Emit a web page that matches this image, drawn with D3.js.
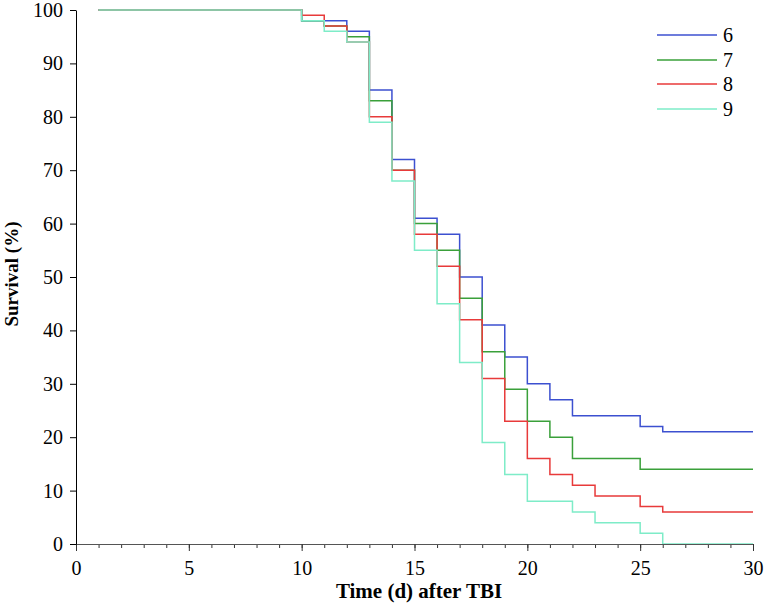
<!DOCTYPE html>
<html><head><meta charset="utf-8">
<script src="https://cdn.jsdelivr.net/npm/d3@7"></script>
<style>body{margin:0;background:#fff}</style>
</head><body>
<svg id="c" width="766" height="605"></svg>
<script>
const seriesNames = ["6","7","8","9"];
const colors = ["#3c50d0","#3aa03a","#e83a3a","#7eecc8"];
const times6 = [1,10,12,13,14,15,16,17,18,19,20,21,22,25,26,30];
const vals6  = [100,98,96,85,72,61,58,50,41,35,30,27,24,22,21,21];
const times7 = [1,10,11,12,13,14,15,16,17,18,19,20,21,22,25,30];
const vals7  = [100,98,97,95,83,70,60,55,46,36,29,23,20,16,14,14];
const times8 = [1,10,11,12,13,14,15,16,17,18,19,20,21,22,23,25,26,30];
const vals8  = [100,99,97,94,80,70,58,52,42,31,23,16,13,11,9,7,6,6];
const times9 = [1,10,11,12,13,14,15,16,17,18,19,20,22,23,25,26,30];
const vals9  = [100,98,96,94,79,68,55,45,34,19,13,8,6,4,2,0,0];
const xTicks = [0,5,10,15,20,25,30];
const yTicks = [0,10,20,30,40,50,60,70,80,90,100];

const svg = d3.select("#c");
const x = d3.scaleLinear().domain([0,30]).range([76,753]);
const y = d3.scaleLinear().domain([0,100]).range([544,10]);
const font = "'Liberation Serif','Times New Roman',serif";

const series = [[times6,vals6],[times7,vals7],[times8,vals8],[times9,vals9]];
const line = d3.line().x(d=>x(d[0])).y(d=>y(d[1])).curve(d3.curveStepAfter);
series.forEach((s,i)=>{
  const pts = s[0].map((t,j)=>[t,s[1][j]]);
  svg.append("path").attr("d",line(pts)).attr("fill","none")
    .attr("stroke",colors[i]).attr("stroke-width",1.5);
});

// x axis
const xa = svg.append("g").attr("transform","translate(0,544)");
xa.call(d3.axisBottom(x).tickValues(d3.range(0,31,1)).tickSize(4).tickFormat(""));
xa.select(".domain").remove();
xa.selectAll("line").attr("stroke","#333");
const xb = svg.append("g").attr("transform","translate(0,544)");
xb.call(d3.axisBottom(x).tickValues(xTicks).tickSize(7).tickSizeOuter(0).tickPadding(10));
xb.select(".domain").attr("stroke","#555");
xb.selectAll("line").attr("stroke","#333");
xb.selectAll("text").attr("font-family",font).attr("font-size",20).attr("fill","#000");

// y axis
const ya = svg.append("g").attr("transform","translate(76,0)");
ya.call(d3.axisLeft(y).tickValues(yTicks).tickSize(6).tickSizeOuter(0).tickPadding(7));
ya.select(".domain").attr("stroke","#000");
ya.selectAll("text").attr("font-family",font).attr("font-size",20).attr("fill","#000");

// titles
svg.append("text").attr("x",419).attr("y",598).attr("text-anchor","middle")
  .attr("font-family",font).attr("font-size",21).attr("font-weight","bold").text("Time (d) after TBI");
svg.append("text").attr("transform","translate(18,274) rotate(-90)").attr("text-anchor","middle")
  .attr("font-family",font).attr("font-size",19).attr("font-weight","bold").text("Survival (%)");

// legend
const ly = [35,60,84,109];
seriesNames.forEach((n,i)=>{
  svg.append("line").attr("x1",657).attr("x2",717).attr("y1",ly[i]).attr("y2",ly[i])
    .attr("stroke",colors[i]).attr("stroke-width",1.5);
  svg.append("text").attr("x",723).attr("y",ly[i]+7).attr("font-family",font)
    .attr("font-size",20).text(n);
});
</script>
</body></html>
